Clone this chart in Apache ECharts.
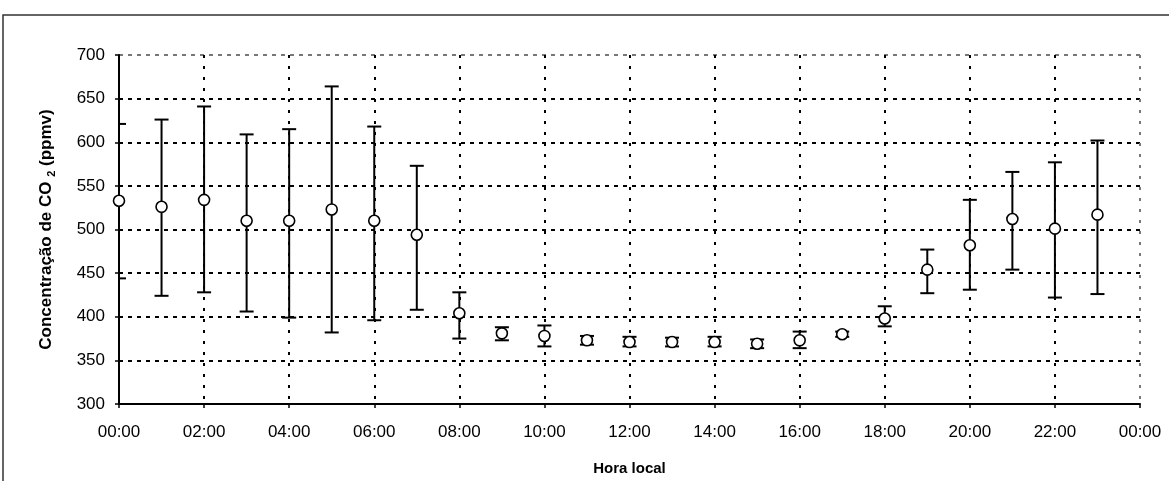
<!DOCTYPE html>
<html>
<head>
<meta charset="utf-8">
<script src="https://cdn.jsdelivr.net/npm/echarts@6/dist/echarts.min.js"></script>
<style>
  html, body { margin: 0; padding: 0; background: #fff; }
  #chart { width: 1169px; height: 481px; }
</style>
</head>
<body>
<div id="chart"></div>
<script>
// Hourly CO2 concentration: mean with low/high range (ppmv)
const hours   = [0, 1, 2, 3, 4, 5, 6, 7, 8, 9, 10, 11, 12, 13, 14, 15, 16, 17, 18, 19, 20, 21, 22, 23];
const meanCO2 = [533, 526, 534, 510, 510, 523, 510, 494, 404, 381, 378, 373, 371, 371, 371, 369, 373, 380, 398, 454, 482, 512, 501, 517];
const lowCO2  = [444, 424, 428, 406, 399, 382, 396, 408, 375, 373, 366, 368, 366, 366, 366, 364, 364, 377, 389, 427, 431, 454, 422, 426];
const highCO2 = [621, 626, 641, 609, 615, 664, 618, 573, 428, 388, 390, 378, 377, 376, 377, 374, 383, 383, 412, 477, 534, 566, 577, 602];

// Axis tick labels
const hourLabels = ['00:00', '02:00', '04:00', '06:00', '08:00', '10:00', '12:00',
                    '14:00', '16:00', '18:00', '20:00', '22:00', '00:00'];
const yMin = 300, yMax = 700, yStep = 50;

const errorData = hours.map((h, i) => [h, lowCO2[i], highCO2[i]]);
const pointData = hours.map((h, i) => [h, meanCO2[i]]);

const FONT = '"Liberation Sans", Arial, sans-serif';

const chart = echarts.init(document.getElementById('chart'), null, { renderer: 'canvas' });

const hGridColors = ['#000', '#000', '#000', '#000', '#000', '#000', '#000', '#000', '#777'];
const vGridColors = ['#000', '#000', '#000', '#000', '#000', '#000', '#000', '#000', '#000', '#000', '#000', '#000', '#777'];

chart.setOption({
  backgroundColor: '#fff',
  animation: false,
  graphic: [{
    type: 'rect',
    shape: { x: 3, y: 15, width: 1200, height: 500 },
    style: { fill: 'none', stroke: '#333', lineWidth: 1.5 },
    silent: true,
    z: -10
  }],
  grid: { left: 119, right: 29, top: 55, bottom: 77 },
  xAxis: {
    type: 'value',
    min: 0, max: 24, interval: 2,
    name: 'Hora local',
    nameLocation: 'middle',
    nameGap: 57,
    nameTextStyle: { fontFamily: FONT, fontWeight: 'bold', fontSize: 15, color: '#000' },
    axisLine: { show: true, onZero: false, lineStyle: { color: '#000', width: 2 } },
    axisTick: { show: true, length: 4, lineStyle: { color: '#000', width: 1.5 } },
    axisLabel: {
      fontFamily: FONT, fontSize: 17, color: '#000', margin: 20,
      formatter: v => hourLabels[Math.round(v / 2)]
    },
    splitLine: { show: true, lineStyle: { color: vGridColors, width: 2, type: [3, 8] } }
  },
  yAxis: {
    type: 'value',
    min: yMin, max: yMax, interval: yStep,
    name: 'Concentração de CO {sub|2} (ppmv)',
    nameLocation: 'middle',
    nameGap: 62,
    nameRotate: 90,
    nameTextStyle: {
      fontFamily: FONT, fontWeight: 'bold', fontSize: 17, color: '#000', lineHeight: 22,
      rich: {
        sub: { fontFamily: FONT, fontWeight: 'bold', fontSize: 11, color: '#000',
               verticalAlign: 'bottom', lineHeight: 10 }
      }
    },
    axisLine: { show: true, lineStyle: { color: '#000', width: 2 } },
    axisTick: { show: true, length: 4, lineStyle: { color: '#000', width: 1.5 } },
    axisLabel: { fontFamily: FONT, fontSize: 17, color: '#000', margin: 14 },
    splitLine: { show: true, lineStyle: { color: hGridColors, width: 2, type: [4, 5] } }
  },
  series: [
    {
      type: 'custom',
      name: 'range',
      data: errorData,
      clip: true,
      z: 3,
      renderItem: function (params, api) {
        const x = api.value(0);
        const lo = api.coord([x, api.value(1)]);
        const hi = api.coord([x, api.value(2)]);
        const half = 7;
        const style = { stroke: '#000', lineWidth: 2 };
        return {
          type: 'group',
          children: [
            { type: 'line', shape: { x1: lo[0], y1: lo[1], x2: hi[0], y2: hi[1] }, style },
            { type: 'line', shape: { x1: hi[0] - half, y1: hi[1], x2: hi[0] + half, y2: hi[1] }, style },
            { type: 'line', shape: { x1: lo[0] - half, y1: lo[1], x2: lo[0] + half, y2: lo[1] }, style }
          ]
        };
      }
    },
    {
      type: 'scatter',
      name: 'CO2',
      data: pointData,
      symbol: 'circle',
      symbolSize: 11,
      z: 5,
      itemStyle: { color: '#fff', borderColor: '#000', borderWidth: 1.6, opacity: 1 }
    }
  ]
});
</script>
</body>
</html>
